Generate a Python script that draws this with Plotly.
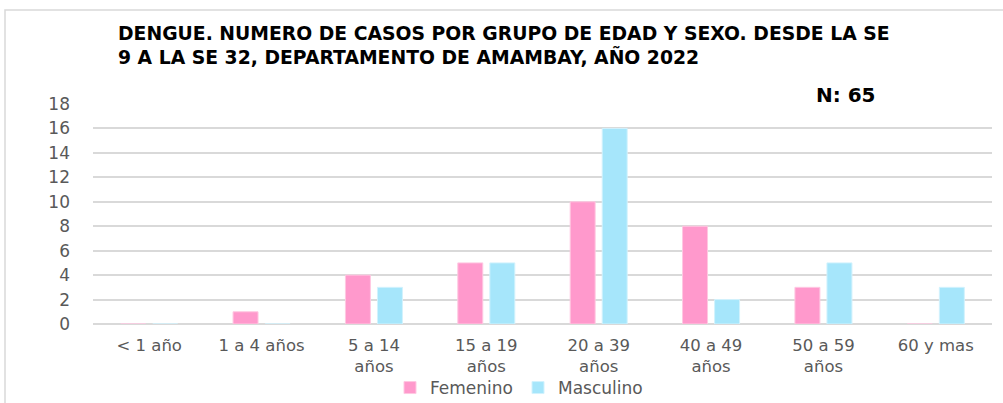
import plotly.graph_objects as go

categories = ["< 1 año", "1 a 4 años", "5 a 14<br>años", "15 a 19<br>años",
              "20 a 39<br>años", "40 a 49<br>años", "50 a 59<br>años", "60 y mas"]
femenino = [0, 1, 4, 5, 10, 8, 3, 0]
masculino = [0, 0, 3, 5, 16, 2, 5, 3]
y_ticks = [0, 2, 4, 6, 8, 10, 12, 14, 16, 18]

W, H = 1003, 403
L, R, T, B = 93, 11, 104, 79
pw, ph = W - L - R, H - T - B
FONT = "DejaVu Sans"

fig = go.Figure()
fig.add_trace(go.Bar(x=categories, y=femenino, name="Femenino",
                     marker=dict(color="#FF99CC", line=dict(color="#FFC8E2", width=1))))
fig.add_trace(go.Bar(x=categories, y=masculino, name="Masculino",
                     marker=dict(color="#A6E6FB", line=dict(color="#D2F2FD", width=1))))

fig.update_layout(
    width=W, height=H,
    margin=dict(l=L, r=R, t=T, b=B, pad=0, autoexpand=False),
    paper_bgcolor="white", plot_bgcolor="white",
    barmode="group", bargap=0.43, bargroupgap=0.22,
    font=dict(family=FONT, color="#595959", size=17),
    showlegend=True,
    legend=dict(orientation="h", x=(519 - L) / pw, xanchor="center", y=-(388 - 324) / ph,
                yanchor="middle", bgcolor="rgba(0,0,0,0)",
                font=dict(family=FONT, size=17, color="#595959"), itemwidth=30,
                traceorder="normal"),
    xaxis=dict(showgrid=False, showline=False, ticks="",
               tickfont=dict(family=FONT, size=16.5, color="#595959"),
               ticklabelstandoff=9),
    yaxis=dict(range=[0, 18], tickvals=y_ticks, showgrid=True, gridcolor="#D9D9D9", gridwidth=1.5,
               zeroline=True, zerolinecolor="#D9D9D9", zerolinewidth=1.5, showline=False,
               tickfont=dict(family=FONT, size=17, color="#595959"), ticklabelstandoff=22),
)

fig.add_annotation(xref="paper", yref="paper", x=(116 - L) / pw, y=1 + (104 - 45) / ph,
                   xanchor="left", yanchor="middle", align="left", showarrow=False,
                   text="<b>DENGUE. NUMERO DE CASOS POR GRUPO DE EDAD Y SEXO. DESDE LA SE<br>9 A LA SE 32, DEPARTAMENTO DE AMAMBAY, AÑO 2022</b>",
                   font=dict(family=FONT, size=18.8, color="#000000"))
fig.add_annotation(xref="paper", yref="paper", x=(846 - L) / pw, y=1 + (104 - 95) / ph,
                   xanchor="center", yanchor="middle", showarrow=False,
                   text="<b>N: 65</b>", font=dict(family=FONT, size=20, color="#000000"))

fig.add_shape(type="rect", xref="paper", yref="paper",
              x0=(5 - L) / pw, x1=(W + 5 - L) / pw,
              y0=1 - (H + 5 - T) / ph, y1=1 + (T - 10) / ph,
              line=dict(color="#D9D9D9", width=1.5), fillcolor="rgba(0,0,0,0)", layer="below")

fig.write_html("out.html", config={"displayModeBar": False},
               post_script="document.body.style.margin='0px';")
